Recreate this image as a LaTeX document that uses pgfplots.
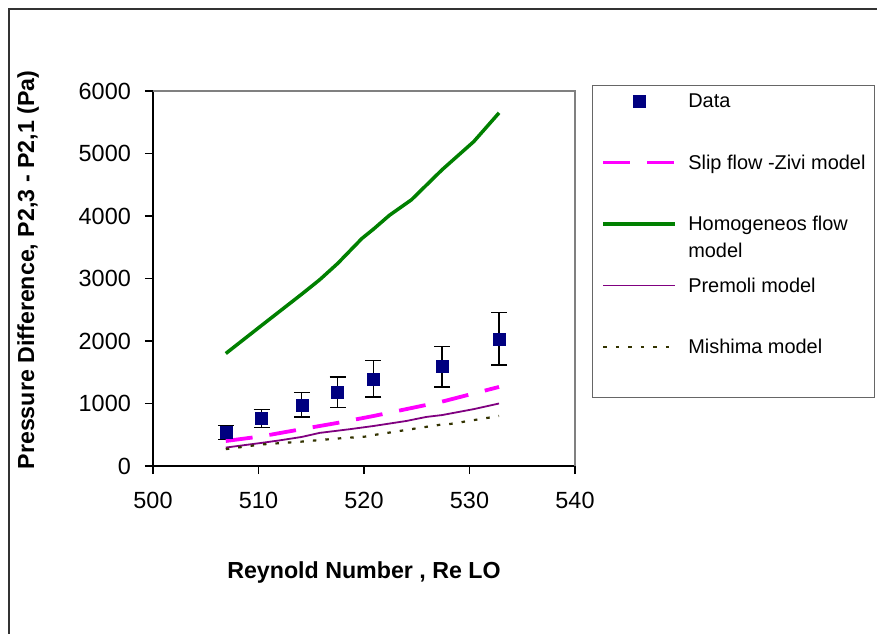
\documentclass[border=0pt]{standalone}
\usepackage{fontspec}
\setmainfont{Liberation Sans}
\usepackage{pgfplots}
\pgfplotsset{compat=1.18}

\definecolor{navyblue}{RGB}{0,0,128}
\definecolor{homgreen}{RGB}{0,128,0}
\definecolor{slipmag}{RGB}{255,0,255}
\definecolor{premolipurple}{RGB}{128,0,128}
\definecolor{mishimaolive}{RGB}{51,51,0}

% legend samples: long horizontal strokes, one centred mark for the data
\pgfplotsset{
  legline/.style={legend image code/.code={\draw[##1] (0bp,17.35bp) -- (72bp,17.35bp);}},
  legmark/.style={legend image code/.code={\draw[##1,mark repeat=2,mark phase=2] plot coordinates {(0bp,17.35bp) (36bp,17.35bp) (72bp,17.35bp)};}},
}

\pgfplotstableread{
x     y     e
506.9 540   112
510.3 760   147
514.1 980   195
517.5 1180  243
520.9 1395  293
527.4 1590  323
532.8 2035  418
}\measured

\pgfplotstableread{
x     y
506.9 400
510.3 475
514.1 590
517.5 690
520.9 800
527.4 1030
532.8 1265
}\slipzivi

\pgfplotstableread{
x     y
506.9 1800
510.3 2250
514.1 2750
515.8 2980
517.5 3240
519.8 3640
520.9 3790
522.4 4010
524.5 4260
527.4 4740
530.4 5190
532.8 5650
}\homogeneous

\pgfplotstableread{
x     y
506.9 295
510.3 370
512.0 410
514.1 465
515.8 530
517.5 565
518.7 590
520.9 640
524.0 720
525.9 785
527.4 815
530.4 910
532.8 1000
}\premoli

\pgfplotstableread{
x     y
506.9 270
510.3 345
514.1 390
517.5 440
520.1 470
520.9 495
524.5 590
527.4 665
528.0 668
532.8 800
}\mishima

\begin{document}
\begin{tikzpicture}
\useasboundingbox (0,0) rectangle (877bp,634bp);
\fill[white] (0,0) rectangle (877bp,634bp);
\draw[line width=1.2bp, black!80] (9bp,-5bp) -- (9bp,625bp) -- (885bp,625bp);
\begin{axis}[
  scale only axis, width=422bp, height=375bp,
  at={(153bp,168bp)}, anchor=south west,
  xmin=500, xmax=540, ymin=0, ymax=6000,
  xtick={500,510,...,540}, ytick={0,1000,...,6000},
  scaled ticks=false,
  axis lines=left, axis line style={-, line width=1.3bp, black},
  tick align=outside, major tick length=8bp,
  tick style={line width=1.1bp, black},
  /pgf/number format/assume math mode=true,
  /pgf/number format/1000 sep={},
  ticklabel style={font=\fontsize{23.5}{26}\selectfont},
  xticklabel style={inner sep=0pt, anchor=north, yshift=-18bp},
  yticklabel style={inner sep=0pt, anchor=east, xshift=-14bp},
  xlabel={Reynold Number , Re LO},
  ylabel={Pressure Difference, P2,3 - P2,1 (Pa)},
  label style={font=\bfseries\fontsize{23.3}{26}\selectfont},
  xlabel style={at={(axis description cs:0.5,-0.2987)}, anchor=base, inner sep=0pt},
  ylabel style={at={(axis description cs:-0.296,0.5227)}, anchor=center, rotate=0, inner sep=0pt},
  after end axis/.code={\draw[gray, line width=1.3bp] (rel axis cs:0,1) -- (rel axis cs:1,1) -- (rel axis cs:1,0);},
  legend style={
    at={(axis description cs:1.0403,1.016)}, anchor=north west,
    draw=black!60, line width=1bp, fill=white,
    inner xsep=9bp, inner ysep=9bp,
    font=\fontsize{20}{27.4}\selectfont,
    row sep=13.8bp, column sep=11bp,
    nodes={inner sep=0pt, text height=13bp, text depth=34.7bp},
    cells={anchor=west},
  },
]
\addplot[only marks, mark=square*, mark size=6bp, color=navyblue,
  mark options={fill=navyblue, draw=navyblue, solid}, legmark,
  error bars/.cd, y dir=both, y explicit,
  error bar style={line width=1.4bp, black, solid},
  error mark options={black, rotate=90, mark size=8bp, line width=1.4bp}]
  table[x=x, y=y, y error=e] {\measured};
\addlegendentry{Data}
\addplot[slipmag, line width=3.8bp, dash pattern=on 27bp off 17bp, legline]
  table[x=x, y=y] {\slipzivi};
\addlegendentry{Slip flow -Zivi model}
\addplot[homgreen, line width=3.5bp, line join=round, legline]
  table[x=x, y=y] {\homogeneous};
\addlegendentry{\vtop{\hbox{Homogeneos flow}\hbox{model}}}
\addplot[premolipurple, line width=1.8bp, line join=round, legline]
  table[x=x, y=y] {\premoli};
\addlegendentry{Premoli model}
\addplot[mishimaolive, line width=2.2bp, dash pattern=on 3.5bp off 9bp, legline]
  table[x=x, y=y] {\mishima};
\addlegendentry{Mishima model}
\end{axis}
\end{tikzpicture}
\end{document}
